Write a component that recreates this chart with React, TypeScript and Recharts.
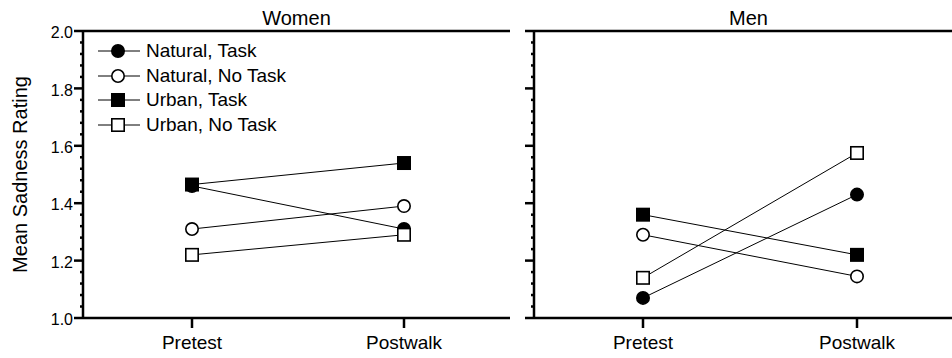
import React from "react"
import { Legend, Line, LineChart, ReferenceLine, XAxis, YAxis } from "recharts"

const categories = ["Pretest", "Postwalk"]
const seriesNames = ["Natural, Task", "Natural, No Task", "Urban, Task", "Urban, No Task"]
const seriesKeys = ["naturalTask", "naturalNoTask", "urbanTask", "urbanNoTask"]

const womenNaturalTask = [1.46, 1.31]
const womenNaturalNoTask = [1.31, 1.39]
const womenUrbanTask = [1.465, 1.54]
const womenUrbanNoTask = [1.22, 1.29]

const menNaturalTask = [1.07, 1.43]
const menNaturalNoTask = [1.29, 1.145]
const menUrbanTask = [1.36, 1.22]
const menUrbanNoTask = [1.14, 1.575]

const yTicks = [
  1.0, 1.04, 1.08, 1.12, 1.16, 1.2, 1.24, 1.28, 1.32, 1.36, 1.4, 1.44, 1.48, 1.52, 1.56, 1.6, 1.64, 1.68, 1.72,
  1.76, 1.8, 1.84, 1.88, 1.92, 1.96, 2.0,
]

const FONT = "'Liberation Sans', Arial, Helvetica, sans-serif"
const shapes = ["filledCircle", "openCircle", "filledSquare", "openSquare"]

function buildRows(values: number[][]) {
  return categories.map((cat, i) => {
    const row: Record<string, string | number> = { cat }
    seriesKeys.forEach((k, s) => (row[k] = values[s][i]))
    return row
  })
}

const womenData = buildRows([womenNaturalTask, womenNaturalNoTask, womenUrbanTask, womenUrbanNoTask])
const menData = buildRows([menNaturalTask, menNaturalNoTask, menUrbanTask, menUrbanNoTask])

function Marker({ shape, cx, cy }: { shape: string; cx: number; cy: number }) {
  const fill = shape.startsWith("filled") ? "#000" : "#fff"
  if (shape.endsWith("Circle")) {
    return <circle cx={cx} cy={cy} r={6.2} fill={fill} stroke="#000" strokeWidth={1.6} />
  }
  return <rect x={cx - 6.2} y={cy - 6.2} width={12.4} height={12.4} fill={fill} stroke="#000" strokeWidth={1.6} />
}

const isMajor = (v: number) => Math.abs(v * 5 - Math.round(v * 5)) < 1e-6

function SadnessTick(props: any) {
  const { x, y, payload, showLabel } = props
  const v = payload.value as number
  const major = isMajor(v)
  return (
    <g>
      <line x1={x - (major ? 9 : 3)} x2={x} y1={y} y2={y} stroke="#000" strokeWidth={2.5} />
      {major && showLabel && (
        <text x={x - 10} y={y} dy="0.45em" textAnchor="end" fontSize={16} fill="#000">
          {v.toFixed(1)}
        </text>
      )}
    </g>
  )
}

function renderLegend(props: any) {
  const payload = [...(props.payload || [])].sort(
    (a: any, b: any) => seriesNames.indexOf(a.value) - seriesNames.indexOf(b.value),
  )
  return (
    <div style={{ fontFamily: FONT, fontSize: 19, color: "#000" }}>
      {payload.map((entry: any) => {
        const idx = seriesNames.indexOf(entry.value)
        return (
          <div key={entry.value} style={{ display: "flex", alignItems: "center", height: 24.7 }}>
            <svg width={48} height={20}>
              <line x1={2} x2={44} y1={10} y2={10} stroke="#000" strokeWidth={1} />
              <Marker shape={shapes[idx]} cx={22} cy={10} />
            </svg>
            <span style={{ marginLeft: 2, lineHeight: "20px" }}>{entry.value}</span>
          </div>
        )
      })}
    </div>
  )
}

const axisStroke = { stroke: "#000", strokeWidth: 2.5 }

function Panel({ title, data, showLabels, yAxisWidth, marginRight }: any) {
  return (
    <LineChart
      width={520}
      height={358}
      data={data}
      margin={{ top: 31, right: marginRight, bottom: 0, left: 0 }}
      style={{ fontFamily: FONT }}
    >
      <XAxis
        dataKey="cat"
        scale="point"
        padding={{ left: 109, right: 106 }}
        height={40}
        interval={0}
        tickSize={10}
        tickMargin={8}
        tick={{ fontSize: 19, fill: "#000" }}
        tickLine={axisStroke}
        axisLine={axisStroke}
      />
      <YAxis
        domain={[1, 2]}
        ticks={yTicks}
        interval={0}
        width={yAxisWidth}
        tickSize={0}
        tickMargin={0}
        tickLine={false}
        axisLine={axisStroke}
        tick={<SadnessTick showLabel={showLabels} />}
        label={
          showLabels
            ? {
                value: "Mean Sadness Rating",
                angle: -90,
                position: "insideLeft",
                offset: 20,
                fontSize: 20,
                fill: "#000",
                style: { textAnchor: "middle" },
              }
            : undefined
        }
      />
      <YAxis
        yAxisId="right"
        orientation="right"
        domain={[1, 2]}
        width={0}
        tick={false}
        tickLine={false}
        axisLine={axisStroke}
      />
      <ReferenceLine
        y={2}
        stroke="#000"
        strokeWidth={2.5}
        ifOverflow="visible"
        label={{ value: title, position: "top", offset: 6, fontSize: 20, fill: "#000" }}
      />
      {showLabels && (
        <Legend
          layout="vertical"
          verticalAlign="middle"
          align="center"
          wrapperStyle={{ left: 96, top: 38.5, width: "auto", height: "auto" }}
          content={renderLegend}
        />
      )}
      {seriesKeys.map((k, i) => (
        <Line
          key={k}
          dataKey={k}
          name={seriesNames[i]}
          stroke="#000"
          strokeWidth={1}
          isAnimationActive={false}
          dot={(p: any) => <Marker key={`${k}-${p.index}`} shape={shapes[i]} cx={p.cx} cy={p.cy} />}
          activeDot={false}
        />
      ))}
    </LineChart>
  )
}

export default function App() {
  return (
    <div
      style={{
        position: "absolute",
        left: 0,
        top: 0,
        width: 952,
        height: 358,
        overflow: "hidden",
        background: "#fff",
      }}
    >
      <div style={{ position: "absolute", left: 0, top: 0 }}>
        <Panel title="Women" data={womenData} showLabels yAxisWidth={83} marginRight={10} />
      </div>
      <div style={{ position: "absolute", left: 450, top: 0 }}>
        <Panel title="Men" data={menData} showLabels={false} yAxisWidth={84} marginRight={7} />
      </div>
    </div>
  )
}
